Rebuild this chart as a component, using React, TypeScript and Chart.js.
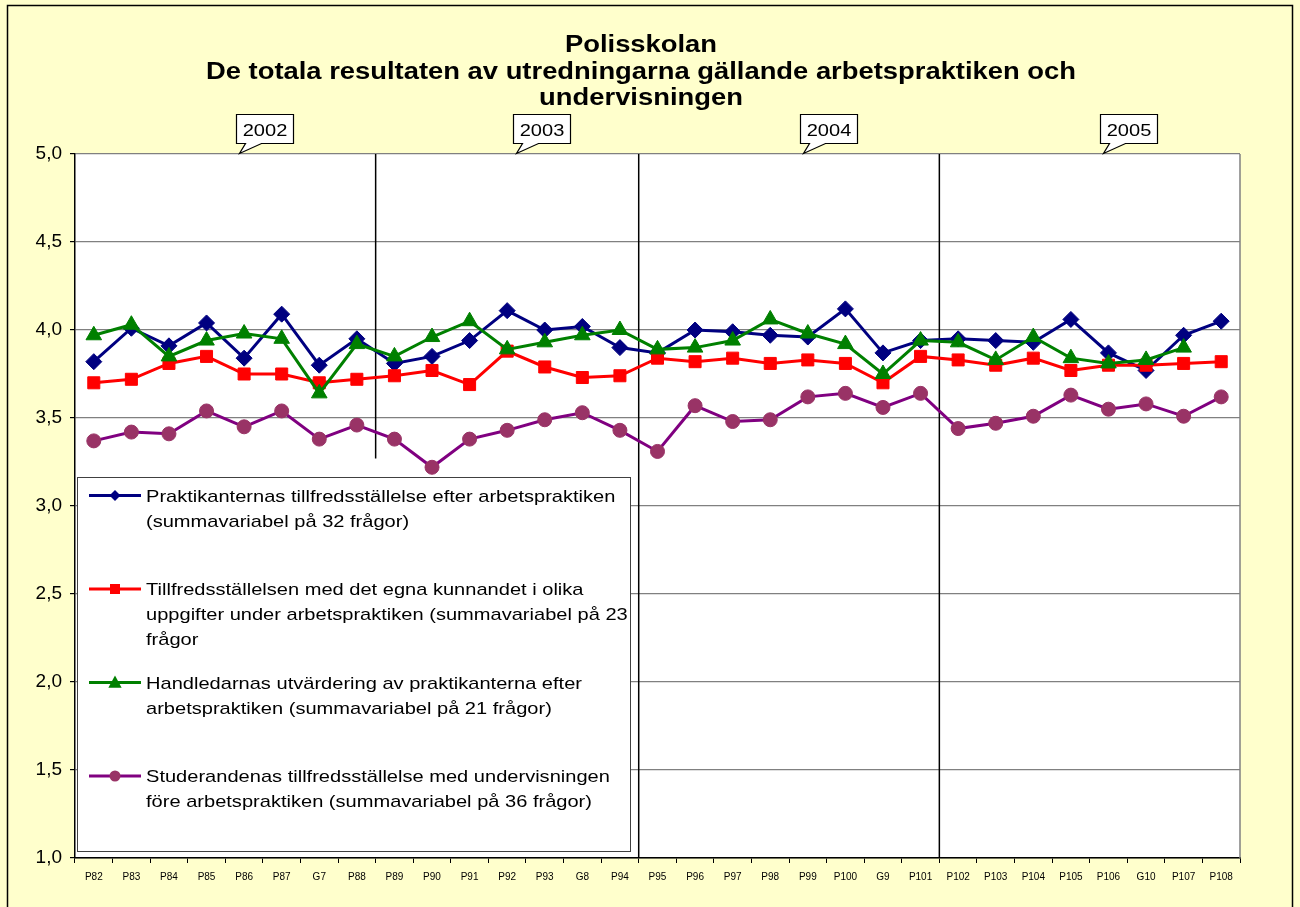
import React, { useEffect, useRef } from 'react';
import { Chart, registerables } from 'chart.js';

Chart.register(...registerables);

// ---------- data ----------
const categories = [
  'P82', 'P83', 'P84', 'P85', 'P86', 'P87', 'G7', 'P88', 'P89', 'P90', 'P91',
  'P92', 'P93', 'G8', 'P94', 'P95', 'P96', 'P97', 'P98', 'P99', 'P100', 'G9',
  'P101', 'P102', 'P103', 'P104', 'P105', 'P106', 'G10', 'P107', 'P108',
];

const praktikanternas = [
  3.82, 4.01, 3.91, 4.04, 3.84, 4.09, 3.80, 3.95, 3.81, 3.85, 3.94,
  4.11, 4.00, 4.02, 3.90, 3.87, 4.00, 3.99, 3.97, 3.96, 4.12, 3.87,
  3.94, 3.95, 3.94, 3.93, 4.06, 3.87, 3.77, 3.97, 4.05,
];

const kunnandet = [
  3.70, 3.72, 3.81, 3.85, 3.75, 3.75, 3.70, 3.72, 3.74, 3.77, 3.69,
  3.88, 3.79, 3.73, 3.74, 3.84, 3.82, 3.84, 3.81, 3.83, 3.81, 3.70,
  3.85, 3.83, 3.80, 3.84, 3.77, 3.80, 3.80, 3.81, 3.82,
];

const handledarnas = [
  3.97, 4.03, 3.85, 3.94, 3.98, 3.95, 3.64, 3.92, 3.85, 3.96, 4.05,
  3.89, 3.93, 3.97, 4.00, 3.89, 3.90, 3.94, 4.06, 3.98, 3.92, 3.75,
  3.94, 3.93, 3.83, 3.96, 3.84, 3.81, 3.83, 3.90, null,
];

const studerandenas = [
  3.37, 3.42, 3.41, 3.54, 3.45, 3.54, 3.38, 3.46, 3.38, 3.22, 3.38,
  3.43, 3.49, 3.53, 3.43, 3.31, 3.57, 3.48, 3.49, 3.62, 3.64, 3.56,
  3.64, 3.44, 3.47, 3.51, 3.63, 3.55, 3.58, 3.51, 3.62,
];

const legendLines = [
  ['Praktikanternas tillfredsställelse efter arbetspraktiken', '(summavariabel på 32 frågor)'],
  ['Tillfredsställelsen med det egna kunnandet i olika', 'uppgifter under arbetspraktiken (summavariabel på 23', 'frågor'],
  ['Handledarnas utvärdering av praktikanterna efter', 'arbetspraktiken (summavariabel på 21 frågor)'],
  ['Studerandenas tillfredsställelse med undervisningen', 'före arbetspraktiken (summavariabel på 36 frågor)'],
];

const titleLines = [
  'Polisskolan',
  'De totala resultaten av utredningarna gällande arbetspraktiken och',
  'undervisningen',
];

const years = ['2002', '2003', '2004', '2005'];
const yearStartIndex = [0, 8, 15, 23];
const firstDividerEndValue = 3.27;

// ---------- styling ----------
const FONT = '"Liberation Sans", Arial, sans-serif';
const STRETCH = 1.18;

function stretchedText(ctx: CanvasRenderingContext2D, text: string, x: number, y: number, font: string, align: 'left' | 'center', k = STRETCH) {
  ctx.save();
  ctx.font = font;
  ctx.textBaseline = 'alphabetic';
  ctx.fillStyle = '#000';
  const w = ctx.measureText(text).width * k;
  const x0 = align === 'center' ? x - w / 2 : x;
  ctx.translate(x0, y);
  ctx.scale(k, 1);
  ctx.textAlign = 'left';
  ctx.fillText(text, 0, 0);
  ctx.restore();
}

function drawMarker(ctx: CanvasRenderingContext2D, style: string, x: number, y: number, r: number, color: string) {
  ctx.save();
  ctx.fillStyle = color;
  ctx.beginPath();
  if (style === 'rectRot') {
    ctx.moveTo(x, y - r); ctx.lineTo(x + r, y); ctx.lineTo(x, y + r); ctx.lineTo(x - r, y); ctx.closePath();
  } else if (style === 'rect') {
    ctx.rect(x - r, y - r, 2 * r, 2 * r);
  } else if (style === 'triangle') {
    ctx.moveTo(x, y - r); ctx.lineTo(x + r * 0.95, y + r * 0.75); ctx.lineTo(x - r * 0.95, y + r * 0.75); ctx.closePath();
  } else {
    ctx.arc(x, y, r, 0, Math.PI * 2);
  }
  ctx.fill();
  ctx.restore();
}

const legendMarkerSize = [5.5, 5, 7, 5.5];

const frameplugin = {
  id: 'excelFrame',
  beforeDraw(chart: any) {
    const { ctx, width, height, chartArea: a } = chart;
    ctx.save();
    ctx.fillStyle = '#FFFFCC';
    ctx.fillRect(0, 0, width, height);
    ctx.fillStyle = '#FFFFFF';
    ctx.fillRect(a.left, a.top, a.right - a.left, a.bottom - a.top);
    ctx.strokeStyle = '#000';
    ctx.lineWidth = 1.5;
    ctx.strokeRect(7.5, 5.5, 1285, height + 20);
    ctx.restore();
  },
  beforeDatasetsDraw(chart: any) {
    const { ctx, chartArea: a, scales } = chart;
    ctx.save();
    ctx.strokeStyle = '#808080';
    ctx.lineWidth = 1.5;
    ctx.beginPath();
    ctx.moveTo(a.right, a.top);
    ctx.lineTo(a.right, a.bottom);
    ctx.stroke();
    ctx.strokeStyle = '#000';
    ctx.lineWidth = 1.5;
    for (let i = 1; i < yearStartIndex.length; i++) {
      const idx = yearStartIndex[i];
      const x = (scales.x.getPixelForValue(idx - 1) + scales.x.getPixelForValue(idx)) / 2;
      const yEnd = i === 1 ? scales.y.getPixelForValue(firstDividerEndValue) : a.bottom;
      ctx.beginPath();
      ctx.moveTo(x, a.top);
      ctx.lineTo(x, yEnd);
      ctx.stroke();
    }
    ctx.restore();
  },
  afterDatasetsDraw(chart: any) {
    const { ctx } = chart;
    // legend box
    const L = 77.5, T = 477.5, R = 630.5, B = 851.5;
    ctx.save();
    ctx.fillStyle = '#FFFFFF';
    ctx.fillRect(L, T, R - L, B - T);
    ctx.strokeStyle = '#404040';
    ctx.lineWidth = 1;
    ctx.strokeRect(L, T, R - L, B - T);
    const slot = (B - T) / legendLines.length;
    chart.data.datasets.forEach((ds: any, i: number) => {
      const y0 = T + i * slot + 18;
      ctx.strokeStyle = ds.borderColor;
      ctx.lineWidth = 3;
      ctx.beginPath();
      ctx.moveTo(89, y0);
      ctx.lineTo(141, y0);
      ctx.stroke();
      drawMarker(ctx, ds.pointStyle, 115, y0, legendMarkerSize[i], ds.pointBackgroundColor);
      legendLines[i].forEach((line, j) => {
        stretchedText(ctx, line, 146, y0 + 6 + j * 25, `17px ${FONT}`, 'left');
      });
    });
    ctx.restore();
  },
  afterDraw(chart: any) {
    const { ctx, chartArea: a, scales } = chart;
    // title
    const titleY = [52, 79, 105];
    titleLines.forEach((t, i) => {
      stretchedText(ctx, t, 641, titleY[i], `bold 23px ${FONT}`, 'center', 1.19);
    });
    // year callouts
    for (let i = 0; i < years.length; i++) {
      const idx = yearStartIndex[i];
      const left = idx === 0 ? a.left : (scales.x.getPixelForValue(idx - 1) + scales.x.getPixelForValue(idx)) / 2;
      const nextIdx = yearStartIndex[i + 1];
      const right = nextIdx === undefined ? a.right : (scales.x.getPixelForValue(nextIdx - 1) + scales.x.getPixelForValue(nextIdx)) / 2;
      const cx = left + (right - left) * 0.63;
      const bw = 57, bh = 29;
      const bx = Math.round(cx - bw / 2) + 0.5;
      const by = 114.5;
      ctx.save();
      ctx.fillStyle = '#FFFFFF';
      ctx.strokeStyle = '#000';
      ctx.lineWidth = 1.2;
      ctx.beginPath();
      ctx.moveTo(bx, by);
      ctx.lineTo(bx + bw, by);
      ctx.lineTo(bx + bw, by + bh);
      ctx.lineTo(bx + 25, by + bh);
      ctx.lineTo(bx + 3, a.top - 0.5);
      ctx.lineTo(bx + 9, by + bh);
      ctx.lineTo(bx, by + bh);
      ctx.closePath();
      ctx.fill();
      ctx.stroke();
      ctx.restore();
      stretchedText(ctx, years[i], bx + bw / 2, by + 21, `17px ${FONT}`, 'center');
    }
  },
};

export default function App() {
  const ref = useRef<HTMLCanvasElement | null>(null);
  useEffect(() => {
    if (!ref.current) return;
    const chart = new Chart(ref.current, {
      type: 'line',
      data: {
        labels: categories,
        datasets: [
          {
            label: legendLines[0].join(' '),
            data: praktikanternas,
            borderColor: '#000080',
            backgroundColor: '#000080',
            pointBackgroundColor: '#000080',
            pointBorderColor: '#000080',
            pointStyle: 'rectRot',
            pointRadius: 8,
            pointBorderWidth: 1,
            borderWidth: 3,
            order: 4,
          },
          {
            label: legendLines[1].join(' '),
            data: kunnandet,
            borderColor: '#FF0000',
            backgroundColor: '#FF0000',
            pointBackgroundColor: '#FF0000',
            pointBorderColor: '#FF0000',
            pointStyle: 'rect',
            pointRadius: 8.5,
            pointBorderWidth: 1,
            borderWidth: 3,
            order: 3,
          },
          {
            label: legendLines[2].join(' '),
            data: handledarnas,
            borderColor: '#008000',
            backgroundColor: '#008000',
            pointBackgroundColor: '#008000',
            pointBorderColor: '#008000',
            pointStyle: 'triangle',
            pointRadius: 9,
            pointBorderWidth: 1,
            borderWidth: 3,
            order: 2,
          },
          {
            label: legendLines[3].join(' '),
            data: studerandenas,
            borderColor: '#800080',
            backgroundColor: '#993366',
            pointBackgroundColor: '#993366',
            pointBorderColor: '#993366',
            pointStyle: 'circle',
            pointRadius: 7,
            pointBorderWidth: 1,
            borderWidth: 3,
            order: 1,
          },
        ],
      },
      options: {
        responsive: false,
        animation: false,
        devicePixelRatio: 1,
        layout: { padding: { top: 154, right: 60, bottom: 0, left: 0 } },
        plugins: {
          legend: { display: false },
          title: { display: false },
          tooltip: { enabled: false },
        },
        elements: { line: { tension: 0 } },
        scales: {
          x: {
            type: 'category',
            offset: true,
            grid: {
              offset: true,
              drawOnChartArea: false,
              drawTicks: true,
              tickLength: 5,
              color: '#000',
            },
            border: { display: true, color: '#000', width: 1.5 },
            ticks: {
              autoSkip: false,
              maxRotation: 0,
              minRotation: 0,
              padding: 8,
              color: '#000',
              font: { family: FONT, size: 10 },
            },
            afterFit: (s: any) => { s.height = 49; },
          },
          y: {
            min: 1,
            max: 5,
            ticks: {
              stepSize: 0.5,
              padding: 8,
              color: '#000',
              font: { family: FONT, size: 19 },
              callback: (v: any) => Number(v).toFixed(1).replace('.', ','),
            },
            grid: {
              color: '#808080',
              lineWidth: 1.2,
              tickColor: '#000',
              tickLength: 5,
            },
            border: { display: true, color: '#000', width: 1.5 },
            afterFit: (s: any) => { s.width = 75; },
          },
        },
      },
      plugins: [frameplugin],
    });
    return () => chart.destroy();
  }, []);

  return (
    <div style={{ position: 'absolute', left: 0, top: 0, width: 1300, height: 907 }}>
      <canvas ref={ref} width={1300} height={907} style={{ display: 'block', width: 1300, height: 907 }} />
    </div>
  );
}
